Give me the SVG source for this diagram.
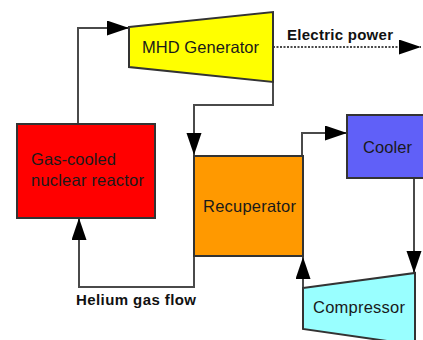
<svg xmlns="http://www.w3.org/2000/svg" width="423" height="340" viewBox="0 0 423 340">
<defs>
<style>
.lbl{font-family:"Liberation Sans",Arial,sans-serif;font-size:16.5px;fill:#1a1a1a}
.bold{font-weight:bold;font-size:15px;fill:#111}
.box{stroke:#333;stroke-width:2}
.conn{fill:none;stroke:#4a4a4a;stroke-width:2}
</style>
<marker id="arr" markerUnits="userSpaceOnUse" markerWidth="24" markerHeight="16" refX="22" refY="7.5" orient="auto">
<path d="M0,0 L22,7.5 L0,15 Z" fill="#000"/>
</marker>
</defs>
<g id="connectors">
<polyline class="conn" points="78,124 78,28 129,28" marker-end="url(#arr)"/>
<polyline class="conn" points="273,82 273,105 194,105 194,155" marker-end="url(#arr)"/>
<line class="conn" x1="273" y1="47" x2="421" y2="47" stroke-dasharray="2,1.5" stroke="#222" marker-end="url(#arr)"/>
<polyline class="conn" points="302,155 302,133 347,133" marker-end="url(#arr)"/>
<polyline class="conn" points="414,178 414,273" marker-end="url(#arr)"/>
<polyline class="conn" points="303,288 303,257" marker-end="url(#arr)"/>
<polyline class="conn" points="194,256 194,287 79,287 79,218" marker-end="url(#arr)"/>
</g>
<g id="reactor">
<rect class="box" x="17" y="124" width="138" height="94" fill="#ff0000" stroke="#3a1515"/>
<text class="lbl" x="31" y="165" textLength="85">Gas-cooled</text>
<text class="lbl" x="31" y="186" textLength="113">nuclear reactor</text>
</g>
<g id="mhd">
<polygon class="box" points="129,27 273,12 273,82 129,67" fill="#ffff00"/>
<text class="lbl" x="142" y="53" textLength="117">MHD Generator</text>
</g>
<g id="recuperator">
<rect class="box" x="194" y="156" width="109" height="100" fill="#ff9900"/>
<text class="lbl" x="203" y="212" textLength="93">Recuperator</text>
</g>
<g id="cooler">
<rect class="box" x="347" y="115" width="80" height="63" fill="#6060f8"/>
<text class="lbl" x="363" y="153" textLength="49">Cooler</text>
</g>
<g id="compressor">
<polygon class="box" points="303,288 415,273 415,345 303,329" fill="#99ffff"/>
<text class="lbl" x="313" y="313" textLength="92">Compressor</text>
</g>
<g id="labels">
<text class="lbl bold" x="287" y="40" textLength="106">Electric power</text>
<text class="lbl bold" x="76" y="305" textLength="120">Helium gas flow</text>
</g>
</svg>
